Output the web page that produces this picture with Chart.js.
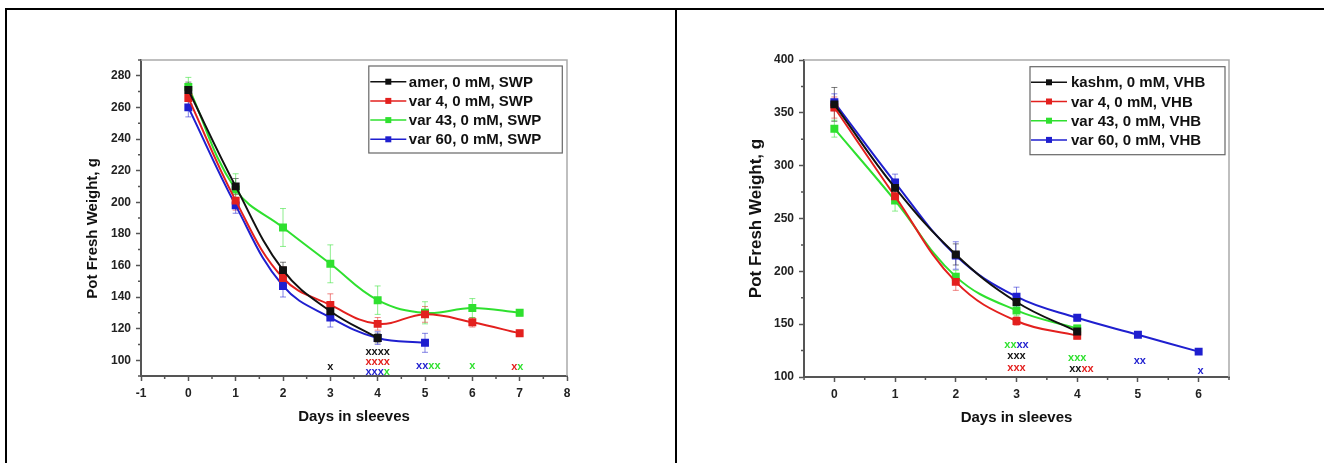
<!DOCTYPE html>
<html>
<head>
<meta charset="utf-8">
<script src="https://cdn.jsdelivr.net/npm/chart.js@4.4.1/dist/chart.umd.min.js"></script>
<style>
  body { margin: 0; background: #fff; width: 1324px; height: 463px; overflow: hidden; position: relative; }
  .rule { position: absolute; background: #000; }
  .panel { position: absolute; top: 10px; height: 445px; }
</style>
</head>
<body>
<div class="rule" style="left:5px; top:8px; width:1319px; height:2px"></div>
<div class="rule" style="left:5px; top:8px; width:2px; height:455px"></div>
<div class="rule" style="left:675px; top:8px; width:2px; height:455px"></div>
<div class="panel" style="left:7px; width:668px"><canvas id="chartSWP"></canvas></div>
<div class="panel" style="left:677px; width:645px"><canvas id="chartVHB"></canvas></div>
<script>
// colours of the four lines
const BLACK = '#111111', RED = '#e3201e', GREEN = '#2fe02f', BLUE = '#1f1fcf';

// ---- left panel: SWP ----
const daysSWP = [0, 1, 2, 3, 4, 5, 6, 7];
const amerSWP = [271, 210, 157, 131, 114];
const var4SWP = [266, 201, 152, 135, 123, 129, 124, 117];
const var43SWP = [273, 208, 184, 161, 138, 130, 133, 130];
const var60SWP = [260, 198, 147, 127, 114, 111];
const amerErrSWP = [5, 5, 5, 4, 3];
const var4ErrSWP = [5, 6, 7, 7, 4, 5, 3, 2];
const var43ErrSWP = [6, 10, 12, 12, 9, 7, 6, 2];
const var60ErrSWP = [6, 5, 7, 6, 4, 6];
const labelsSWP = ['amer, 0 mM, SWP', 'var 4, 0 mM, SWP', 'var 43, 0 mM, SWP', 'var 60, 0 mM, SWP'];
const xTicksSWP = [-1, 0, 1, 2, 3, 4, 5, 6, 7, 8];
const yTicksSWP = [100, 120, 140, 160, 180, 200, 220, 240, 260, 280];
const marksSWP = [
  { x: 3, y: 95.5, parts: [['x', BLACK]] },
  { x: 4, y: 105.5, parts: [['xxxx', BLACK]] },
  { x: 4, y: 99, parts: [['xxxx', RED]] },
  { x: 4, y: 92.5, parts: [['xxx', BLUE], ['x', GREEN]] },
  { x: 5.07, y: 96.5, parts: [['xx', BLUE], ['xx', GREEN]] },
  { x: 6, y: 96.5, parts: [['x', GREEN]] },
  { x: 6.95, y: 95.5, parts: [['x', RED], ['x', GREEN]] }
];

// ---- right panel: VHB ----
const daysVHB = [0, 1, 2, 3, 4, 5, 6];
const kashmVHB = [358, 279, 216, 171, 143];
const var4VHB = [355, 271, 190, 153, 139];
const var43VHB = [335, 267, 195, 163, 146];
const var60VHB = [360, 284, 215, 176, 156, 140, 124];
const kashmErrVHB = [16, 8, 10, 7, 4];
const var4ErrVHB = [10, 6, 8, 4, 3];
const var43ErrVHB = [8, 10, 6, 5, 3];
const var60ErrVHB = [8, 8, 13, 9, 3, 2, 2];
const labelsVHB = ['kashm, 0 mM, VHB', 'var 4, 0 mM, VHB', 'var 43, 0 mM, VHB', 'var 60, 0 mM, VHB'];
const xTicksVHB = [0, 1, 2, 3, 4, 5, 6];
const yTicksVHB = [100, 150, 200, 250, 300, 350, 400];
const marksVHB = [
  { x: 3, y: 130.5, parts: [['xx', GREEN], ['xx', BLUE]] },
  { x: 3, y: 119.5, parts: [['xxx', BLACK]] },
  { x: 3, y: 108.5, parts: [['xxx', RED]] },
  { x: 4, y: 118, parts: [['xxx', GREEN]] },
  { x: 4.07, y: 107.5, parts: [['xx', BLACK], ['xx', RED]] },
  { x: 5.03, y: 115.5, parts: [['xx', BLUE]] },
  { x: 6.03, y: 106, parts: [['x', BLUE]] }
];

const FONT = "'Liberation Sans', Arial, sans-serif";
Chart.defaults.font.family = FONT;
Chart.defaults.color = '#222';

function series(label, days, values, errs, color) {
  return {
    label: label,
    data: values.map((v, i) => ({ x: days[i], y: v })),
    errs: errs,
    borderColor: color,
    backgroundColor: color,
    borderWidth: 2,
    pointStyle: 'rect',
    pointRadius: 4.2,
    pointHoverRadius: 4.2,
    tension: 0.4
  };
}

// error bars, frame, minor ticks, legend box and the significance x marks
function makeDecor(cfg) {
  return {
    id: 'decor',
    beforeDatasetsDraw(chart) {
      const ctx = chart.ctx, xs = chart.scales.x, ys = chart.scales.y;
      ctx.save();
      ctx.lineWidth = 1;
      ctx.globalAlpha = 0.55;
      chart.data.datasets.forEach(ds => {
        ctx.strokeStyle = ds.borderColor;
        ds.data.forEach((p, i) => {
          const e = ds.errs[i];
          const px = xs.getPixelForValue(p.x);
          const top = ys.getPixelForValue(p.y + e), bot = ys.getPixelForValue(p.y - e);
          ctx.beginPath();
          ctx.moveTo(px, top); ctx.lineTo(px, bot);
          ctx.moveTo(px - 3, top); ctx.lineTo(px + 3, top);
          ctx.moveTo(px - 3, bot); ctx.lineTo(px + 3, bot);
          ctx.stroke();
        });
      });
      ctx.restore();
    },
    afterDraw(chart) {
      const ctx = chart.ctx, ca = chart.chartArea, xs = chart.scales.x, ys = chart.scales.y;
      ctx.save();
      // top and right frame
      ctx.strokeStyle = '#aaa';
      ctx.lineWidth = 1.5;
      ctx.beginPath();
      ctx.moveTo(ca.left, ca.top); ctx.lineTo(ca.right, ca.top); ctx.lineTo(ca.right, ca.bottom);
      ctx.stroke();
      // minor ticks
      ctx.strokeStyle = '#555';
      ctx.lineWidth = 1.5;
      ctx.beginPath();
      for (let v = cfg.minorX[0]; v <= cfg.minorX[1] + 1e-9; v += cfg.minorX[2]) {
        const px = xs.getPixelForValue(v);
        ctx.moveTo(px, ca.bottom); ctx.lineTo(px, ca.bottom + 3);
      }
      for (let v = cfg.minorY[0]; v <= cfg.minorY[1] + 1e-9; v += cfg.minorY[2]) {
        const py = ys.getPixelForValue(v);
        ctx.moveTo(ca.left, py); ctx.lineTo(ca.left - 3, py);
      }
      ctx.stroke();

      // significance marks
      ctx.font = 'bold 11px ' + FONT;
      ctx.textBaseline = 'middle';
      ctx.textAlign = 'left';
      cfg.marks.forEach(m => {
        const total = m.parts.reduce((s, p) => s + ctx.measureText(p[0]).width, 0);
        let px = xs.getPixelForValue(m.x) - total / 2;
        const py = ys.getPixelForValue(m.y);
        m.parts.forEach(p => {
          ctx.fillStyle = p[1];
          ctx.fillText(p[0], px, py);
          px += ctx.measureText(p[0]).width;
        });
      });

      // legend box
      const L = cfg.legend;
      const bx = ca.right - L.right - L.w, by = ca.top + L.top;
      ctx.fillStyle = '#fff';
      ctx.fillRect(bx, by, L.w, L.h);
      ctx.strokeStyle = '#666';
      ctx.lineWidth = 1.2;
      ctx.strokeRect(bx, by, L.w, L.h);
      ctx.font = 'bold 15px ' + FONT;
      chart.data.datasets.forEach((ds, i) => {
        const ry = by + L.first + i * L.step;
        const sx = bx + L.sym;
        ctx.strokeStyle = ds.borderColor;
        ctx.lineWidth = 1.5;
        ctx.beginPath();
        ctx.moveTo(sx, ry); ctx.lineTo(sx + 36, ry);
        ctx.stroke();
        ctx.fillStyle = ds.borderColor;
        ctx.fillRect(sx + 15, ry - 3, 6, 6);
        ctx.fillStyle = '#111';
        ctx.fillText(ds.label, bx + L.text, ry + 1);
      });
      ctx.restore();
    }
  };
}

function axisOpts(min, max, tickValues, title, titlePad, titleSize, fit) {
  return {
    type: 'linear',
    min: min,
    max: max,
    afterFit: fit,
    afterBuildTicks: s => { s.ticks = tickValues.map(v => ({ value: v })); },
    border: { display: true, color: '#555', width: 2 },
    grid: { drawOnChartArea: false, drawTicks: true, tickLength: 5, color: '#555', tickWidth: 1.5 },
    ticks: {
      autoSkip: false,
      maxRotation: 0,
      padding: 5,
      color: '#222',
      font: { size: 12, weight: 'bold' }
    },
    title: {
      display: true,
      text: title,
      color: '#111',
      padding: titlePad,
      font: { size: titleSize, weight: 'bold' }
    }
  };
}

function buildChart(id, datasets, pad, xAxis, yAxis, decor) {
  return new Chart(document.getElementById(id), {
    type: 'line',
    data: { datasets: datasets },
    options: {
      responsive: true,
      maintainAspectRatio: false,
      animation: false,
      layout: { padding: pad },
      plugins: { legend: { display: false }, tooltip: { enabled: false } },
      scales: { x: xAxis, y: yAxis }
    },
    plugins: [makeDecor(decor)]
  });
}

buildChart('chartSWP',
  [
    series(labelsSWP[0], daysSWP, amerSWP, amerErrSWP, BLACK),
    series(labelsSWP[1], daysSWP, var4SWP, var4ErrSWP, RED),
    series(labelsSWP[2], daysSWP, var43SWP, var43ErrSWP, GREEN),
    series(labelsSWP[3], daysSWP, var60SWP, var60ErrSWP, BLUE)
  ],
  { left: 74, right: 108, top: 50, bottom: 19 },
  axisOpts(-1, 8, xTicksSWP, 'Days in sleeves', { bottom: 10.5 }, 15, s => { s.height = 60; }),
  axisOpts(90, 290, yTicksSWP, 'Pot Fresh Weight, g     ', { top: 3 }, 15, s => { s.width = 60; }),
  {
    minorX: [-0.5, 7.5, 1],
    minorY: [90, 290, 20],
    marks: marksSWP,
    legend: { w: 193.5, h: 87, right: 4.7, top: 6, first: 15.7, step: 19.2, sym: 1.5, text: 40 }
  }
);

buildChart('chartVHB',
  [
    series(labelsVHB[0], daysVHB, kashmVHB, kashmErrVHB, BLACK),
    series(labelsVHB[1], daysVHB, var4VHB, var4ErrVHB, RED),
    series(labelsVHB[2], daysVHB, var43VHB, var43ErrVHB, GREEN),
    series(labelsVHB[3], daysVHB, var60VHB, var60ErrVHB, BLUE)
  ],
  { left: 67, right: 93, top: 50, bottom: 18 },
  axisOpts(-0.5, 6.5, xTicksVHB, 'Days in sleeves', { bottom: 10 }, 15, s => { s.height = 60; }),
  axisOpts(100, 400, yTicksVHB, 'Pot Fresh Weight, g', { top: 2.5 }, 17, s => { s.width = 60; }),
  {
    minorX: [-0.5, 6.5, 1],
    minorY: [125, 375, 50],
    marks: marksVHB,
    legend: { w: 195, h: 88, right: 4, top: 6.7, first: 15.6, step: 19.2, sym: 1, text: 41 }
  }
);
</script>
</body>
</html>
